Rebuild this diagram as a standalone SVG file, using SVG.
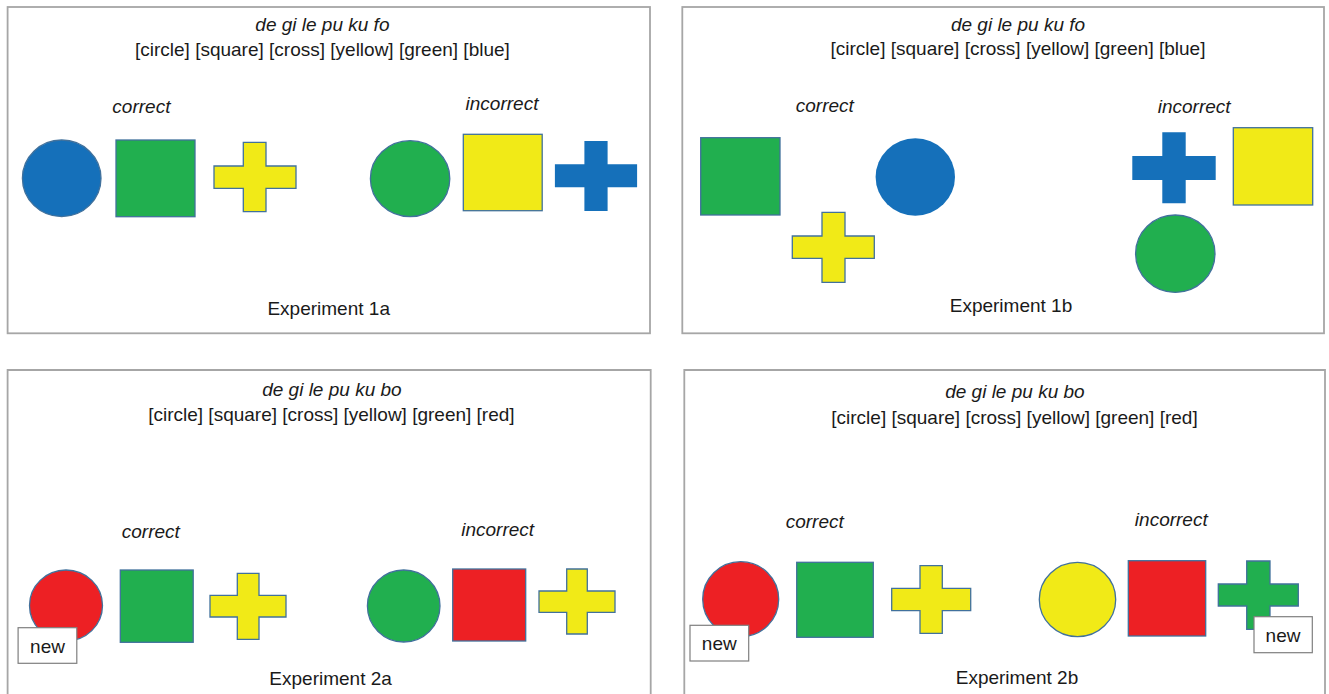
<svg xmlns="http://www.w3.org/2000/svg" width="1329" height="694" viewBox="0 0 1329 694">
<style>
.frame{fill:none;stroke:#a6a6a6;stroke-width:1.8}
.t{font-family:"Liberation Sans",Arial,sans-serif;font-size:19px;fill:#1a1a1a;text-anchor:middle}
.i{font-style:italic}
.sh{stroke:#41719C;stroke-width:1.3}
.blue{fill:#1570BA}
.green{fill:#21AF4F}
.yellow{fill:#F1EA17}
.red{fill:#ED2024}
.newbox{fill:#fff;stroke:#7f7f7f;stroke-width:1.2}
</style>
<rect width="1329" height="694" fill="#fff"/>
<g id="connectors"/>

<g id="panel-1a">
<rect class="frame" x="7.6" y="7" width="642.4" height="326.3"/>
<text class="t i" x="322.4" y="31">de gi le pu ku fo</text>
<text class="t" x="322.4" y="55.5">[circle] [square] [cross] [yellow] [green] [blue]</text>
<text class="t i" x="141.4" y="113">correct</text>
<text class="t i" x="502" y="110">incorrect</text>
<g id="p1-blue-circle"><ellipse class="sh blue" cx="61.7" cy="178.3" rx="39.3" ry="38.3"/></g>
<g id="p1-green-square"><rect class="sh green" x="116" y="140" width="79" height="76.7"/></g>
<g id="p1-yellow-cross"><polygon class="sh yellow" points="243.3,142.3 266,142.3 266,166 296,166 296,188.3 266,188.3 266,211.7 243.3,211.7 243.3,188.3 214,188.3 214,166 243.3,166"/></g>
<g id="p1-green-circle"><ellipse class="sh green" cx="410.1" cy="178.7" rx="39.7" ry="38"/></g>
<g id="p1-yellow-square"><rect class="sh yellow" x="463.3" y="134.3" width="78.9" height="76.4"/></g>
<g id="p1-blue-cross"><polygon class="blue" points="584.4,141 607.6,141 607.6,164.3 637.1,164.3 637.1,187.3 607.6,187.3 607.6,211 584.4,211 584.4,187.3 554.9,187.3 554.9,164.3 584.4,164.3"/></g>
<text class="t" x="328.7" y="315">Experiment 1a</text>
</g>

<g id="panel-1b">
<rect class="frame" x="682.3" y="7" width="641.7" height="326.3"/>
<text class="t i" x="1018" y="31">de gi le pu ku fo</text>
<text class="t" x="1018" y="54.5">[circle] [square] [cross] [yellow] [green] [blue]</text>
<text class="t i" x="824.8" y="112.3">correct</text>
<text class="t i" x="1194.2" y="113">incorrect</text>
<g id="p2-green-square"><rect class="sh green" x="700.7" y="137.7" width="79.3" height="77.3"/></g>
<g id="p2-yellow-cross"><polygon class="sh yellow" points="822,212.3 845,212.3 845,236 874.3,236 874.3,258.3 845,258.3 845,282.3 822,282.3 822,258.3 792.3,258.3 792.3,236 822,236"/></g>
<g id="p2-blue-circle"><ellipse class="blue" cx="915.3" cy="177" rx="39.7" ry="38.7"/></g>
<g id="p2-blue-cross"><polygon class="blue" points="1162.3,132.3 1185.7,132.3 1185.7,156 1215.7,156 1215.7,180 1185.7,180 1185.7,203.3 1162.3,203.3 1162.3,180 1132.3,180 1132.3,156 1162.3,156"/></g>
<g id="p2-yellow-square"><rect class="sh yellow" x="1233.3" y="127.7" width="79.4" height="77.3"/></g>
<g id="p2-green-circle"><ellipse class="sh green" cx="1175.3" cy="253.7" rx="39.7" ry="38.7"/></g>
<text class="t" x="1011" y="311.7">Experiment 1b</text>
</g>

<g id="panel-2a">
<path class="frame" d="M7.6,700 V370 H650.7 V700"/>
<text class="t i" x="331.9" y="396">de gi le pu ku bo</text>
<text class="t" x="331.4" y="421">[circle] [square] [cross] [yellow] [green] [red]</text>
<text class="t i" x="150.8" y="538">correct</text>
<text class="t i" x="497.7" y="535.5">incorrect</text>
<g id="p3-red-circle"><ellipse class="sh red" cx="66" cy="605.5" rx="36.5" ry="35.5"/></g>
<g id="p3-new"><rect class="newbox" x="18.1" y="627.7" width="58.7" height="35.6"/><text class="t" x="47.5" y="653">new</text></g>
<g id="p3-green-square"><rect class="sh green" x="120.3" y="570" width="72.9" height="72.3"/></g>
<g id="p3-yellow-cross"><polygon class="sh yellow" points="237.3,573.3 259,573.3 259,595.3 286,595.3 286,617 259,617 259,639.3 237.3,639.3 237.3,617 210,617 210,595.3 237.3,595.3"/></g>
<g id="p3-green-circle"><ellipse class="sh green" cx="403.7" cy="606" rx="36.3" ry="36"/></g>
<g id="p3-red-square"><rect class="sh red" x="452.7" y="569" width="73" height="72"/></g>
<g id="p3-yellow-cross-2"><polygon class="sh yellow" points="566.7,569 587.3,569 587.3,591 615,591 615,612.3 587.3,612.3 587.3,634 566.7,634 566.7,612.3 539,612.3 539,591 566.7,591"/></g>
<text class="t" x="330.6" y="685">Experiment 2a</text>
</g>

<g id="panel-2b">
<path class="frame" d="M684.3,700 V370 H1325 V700"/>
<text class="t i" x="1014.9" y="398">de gi le pu ku bo</text>
<text class="t" x="1014.5" y="423.5">[circle] [square] [cross] [yellow] [green] [red]</text>
<text class="t i" x="814.7" y="527.5">correct</text>
<text class="t i" x="1171.3" y="525.5">incorrect</text>
<g id="p4-red-circle"><ellipse class="sh red" cx="740.7" cy="599.2" rx="38" ry="37.5"/></g>
<g id="p4-new"><rect class="newbox" x="690" y="625.3" width="58.7" height="35.7"/><text class="t" x="719.3" y="650">new</text></g>
<g id="p4-green-square"><rect class="sh green" x="796.7" y="562.3" width="76.6" height="75"/></g>
<g id="p4-yellow-cross"><polygon class="sh yellow" points="920,565.7 942.3,565.7 942.3,588.3 970.7,588.3 970.7,610.7 942.3,610.7 942.3,633.3 920,633.3 920,610.7 891.7,610.7 891.7,588.3 920,588.3"/></g>
<g id="p4-yellow-circle"><ellipse class="sh yellow" cx="1077.5" cy="599.5" rx="38.2" ry="37.2"/></g>
<g id="p4-red-square"><rect class="sh red" x="1128.3" y="560.7" width="77.4" height="75.3"/></g>
<g id="p4-green-cross"><polygon class="sh green" points="1246.7,561 1270,561 1270,584 1298.3,584 1298.3,606 1270,606 1270,629.3 1246.7,629.3 1246.7,606 1218.3,606 1218.3,584 1246.7,584"/></g>
<g id="p4-new-2"><rect class="newbox" x="1254" y="616.7" width="58.3" height="36"/><text class="t" x="1283" y="642">new</text></g>
<text class="t" x="1017" y="684">Experiment 2b</text>
</g>
</svg>
